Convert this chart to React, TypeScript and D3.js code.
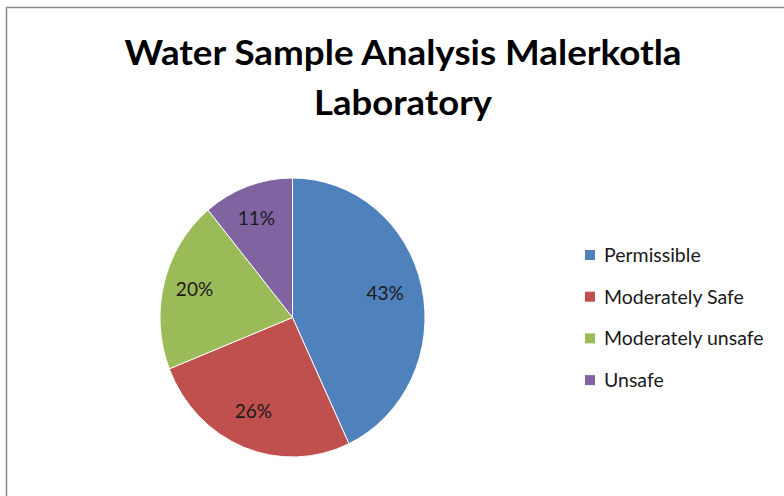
import React from 'react'
import { pie, arc } from 'd3'

const categories = ['Permissible', 'Moderately Safe', 'Moderately unsafe', 'Unsafe']
const shares = [43, 26, 20, 11]
const colors = ['#4F81BD', '#C0504D', '#9BBB59', '#8064A2']
const titleLines = ['Water Sample Analysis Malerkotla', 'Laboratory']

const font = 'Lato, "DejaVu Sans Condensed", sans-serif'

const App = () => {
  const width = 784
  const height = 496
  const cx = 292.5
  const cy = 317.5
  const r = 139.5
  const sx = 0.95

  const slices = pie<number>().sort(null).value(d => d)(shares)
  const sliceArc = arc<any>().innerRadius(0).outerRadius(r)
  const labelArc = arc<any>().innerRadius(r * 0.74).outerRadius(r * 0.74)

  return (
    <svg width={width} height={height} style={{ position: 'absolute', left: 0, top: 0, background: '#fff' }}>
      <rect x={6.5} y={7.5} width={790} height={500} fill="#fff" stroke="#8a8a8a" strokeWidth={1.5} />
      {titleLines.map((t, i) => (
        <text key={i} x={403} y={65 + i * 50} textAnchor="middle" fontFamily={font}
          fontWeight="bold" fontSize={35} fill="#000"
          textLength={i === 0 ? 557 : 178} lengthAdjust="spacingAndGlyphs">{t}</text>
      ))}
      <g transform={`translate(${cx},${cy}) scale(${sx},1)`}>
        {slices.map((d, i) => (
          <path key={i} d={sliceArc(d) || ''} fill={colors[i]} stroke="#fff" strokeWidth={1} />
        ))}
      </g>
      {slices.map((d, i) => {
        const [lx, ly] = labelArc.centroid(d)
        return (
          <text key={i} x={cx + lx * sx - 3} y={cy + ly - 2} dy="0.35em" textAnchor="middle"
            fontFamily={font} fontSize={19} fill="#1a1a1a">{d.data}%</text>
        )
      })}
      {categories.map((c, i) => (
        <g key={c} transform={`translate(585,${255 + i * 41.7})`}>
          <rect x={0} y={-5} width={10} height={10} fill={colors[i]} />
          <text x={19} y={0} dy="0.35em" fontFamily={font} fontSize={19.5} fill="#1a1a1a">{c}</text>
        </g>
      ))}
    </svg>
  )
}

export default App
